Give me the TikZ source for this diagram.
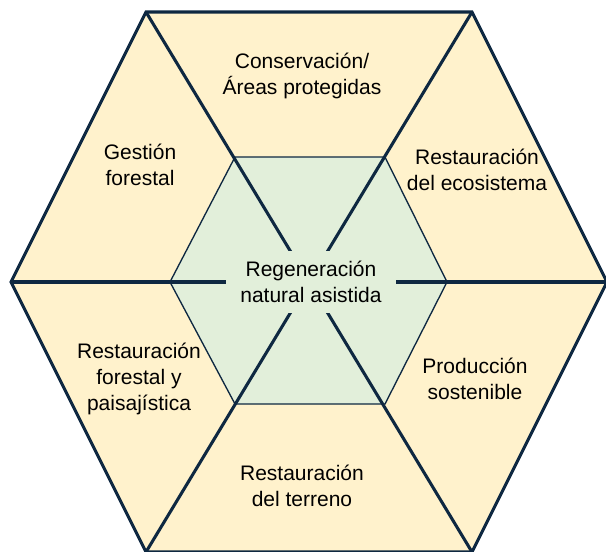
\documentclass[tikz,border=0pt]{standalone}
\usepackage{fontspec}
\setmainfont{Liberation Sans}
\usetikzlibrary{positioning,calc}
\definecolor{lineColor}{RGB}{14,40,65}
\definecolor{outerBg}{RGB}{255,242,204}
\definecolor{innerBg}{RGB}{226,239,218}

\begin{document}
\begin{tikzpicture}[
  x=0.75pt, y=-0.75pt,
  font=\fontsize{15.75}{19.5}\selectfont,
  rim/.style={draw=lineColor, line width=2.3pt, line join=miter},
  spoke/.style={draw=lineColor, line width=2.3pt},
  core/.style={draw=lineColor, fill=innerBg, line width=1pt},
  label/.style={align=center, text=black, inner sep=0pt}
]
\useasboundingbox (0,0) rectangle (606,551);

% Outer hexagon
\coordinate (o1) at (146,12);
\coordinate (o2) at (472,12);
\coordinate (o3) at (607,282);
\coordinate (o4) at (472,552);
\coordinate (o5) at (146,552);
\coordinate (o6) at (11,282);
\coordinate (mid) at (309,282);
\fill[outerBg] (o1) -- (o2) -- (o3) -- (o4) -- (o5) -- (o6) -- cycle;

% Inner hexagon
\draw[core] (235,157) -- (385,157) -- (447,282) -- (385,404) -- (235,404) -- (170,282) -- cycle;

% Spokes
\foreach \v in {o1,o2,o3,o4,o5,o6} {
  \draw[spoke] (\v) -- (mid);
}
\draw[rim] (o1) -- (o2) -- (o3) -- (o4) -- (o5) -- (o6) -- cycle;

% Centre
\node[label, fill=innerBg, minimum width=128pt, minimum height=46.5pt] (rna) at (311,282) {Regeneración\\natural asistida};

% Sectors
\node[label] (cons) at (302,76) {Conservación/\\Áreas protegidas};
\node[label] (gest) at (140,165) {Gestión\\forestal};
\node[label] (ecos) at (477,170) {Restauración\\del ecosistema};
\node[label] (fore) at (139,379) {Restauración\\forestal y\\paisajística};
\node[label] (prod) at (475,379) {Producción\\sostenible};
\node[label] (terr) at (302,486) {Restauración\\del terreno};

\end{tikzpicture}
\end{document}
